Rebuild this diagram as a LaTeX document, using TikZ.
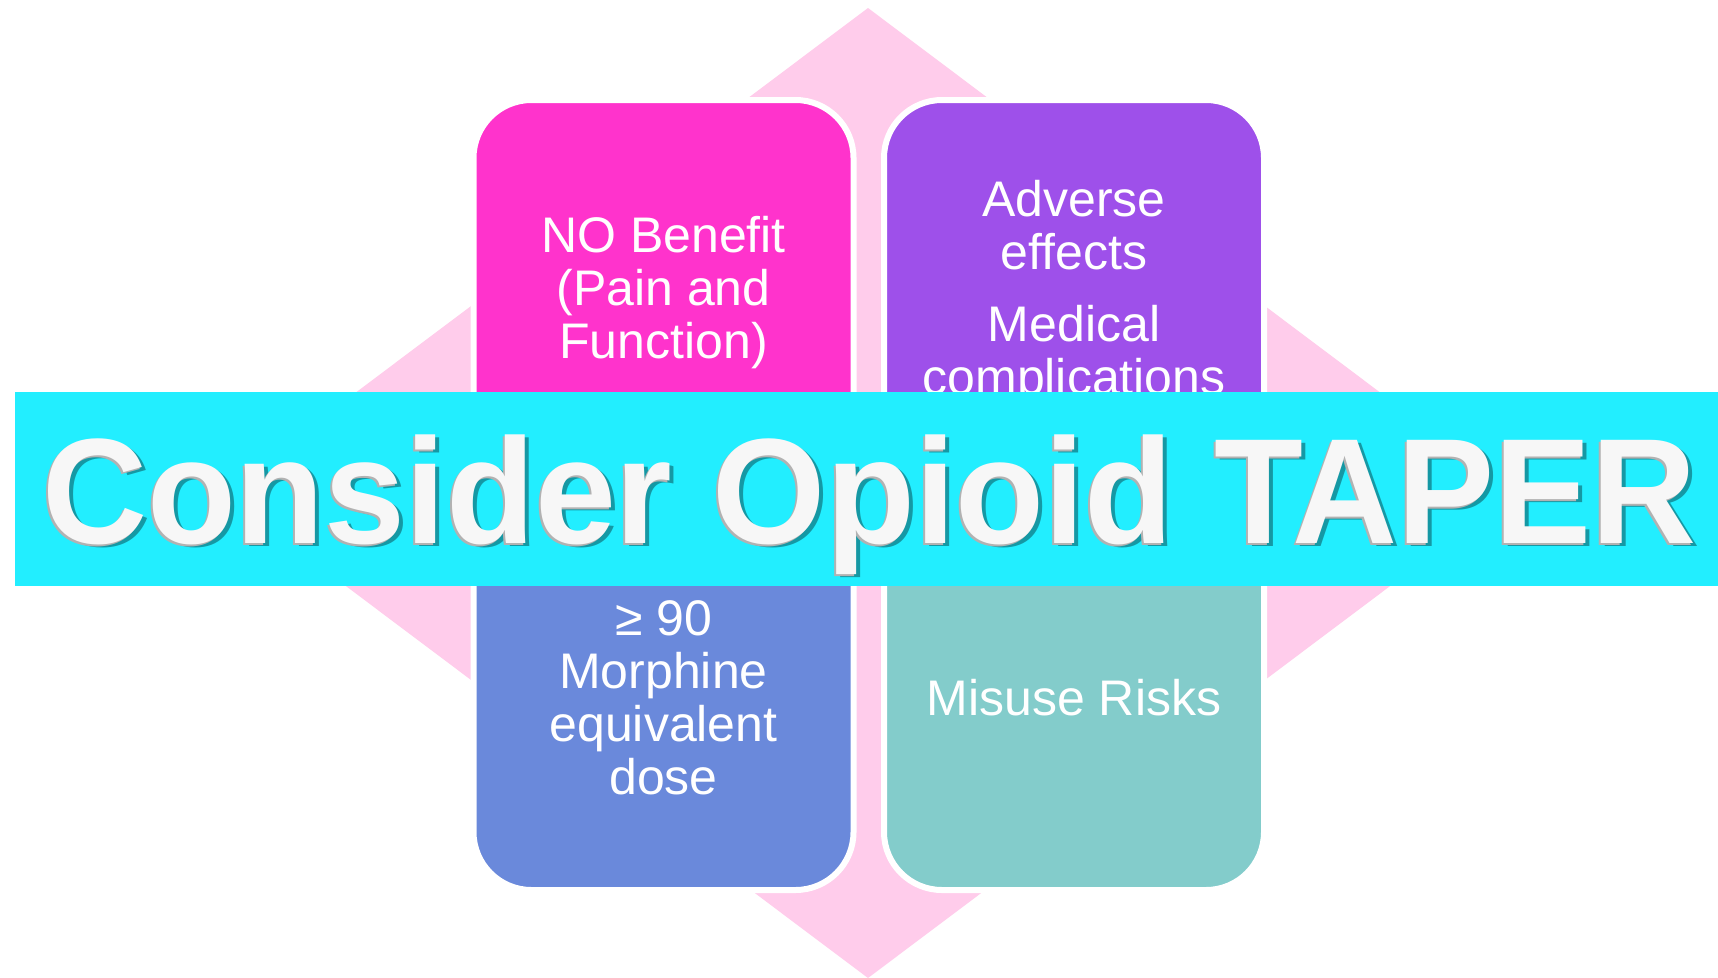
\documentclass[tikz,border=0pt]{standalone}
\usepackage{fontspec}
\setmainfont{Liberation Sans}
\usepackage{graphicx}

\definecolor{diamondpink}{HTML}{FFCCEB}
\definecolor{boxpink}{HTML}{FF33CC}
\definecolor{boxviolet}{HTML}{9E50EA}
\definecolor{boxblue}{HTML}{6A89DB}
\definecolor{boxteal}{HTML}{83CCCB}
\definecolor{bannercyan}{HTML}{22EEFF}
\definecolor{shadeteal}{HTML}{1598A4}

\newcommand\tapertext{\scalebox{0.97}[1]{\fontsize{150}{150}\bfseries Consider Opioid TAPER}}

\begin{document}
\begin{tikzpicture}[x=1pt,y=-1pt,
  tile/.style={draw=white, line width=6pt, rounded corners=58pt,
    minimum width=380pt, minimum height=379pt, inner sep=0pt},
  tiletext/.style={text=white, align=center, inner sep=0pt,
    font=\fontsize{50}{53}\selectfont},
  bannerword/.style={anchor=base west, inner sep=0pt, outer sep=0pt}
]
\useasboundingbox (0,0) rectangle (1718,977);
\fill[white] (0,0) rectangle (1718,977);

% pink diamond behind the four tiles
\fill[diamondpink] (868,8) -- (1514,493) -- (868,978) -- (222,493) -- cycle;

% the four tiles
\node[tile, fill=boxpink]   (benefitbox) at (663.5,289.5) {};
\node[tile, fill=boxviolet] (adversebox) at (1074,289.5) {};
\node[tile, fill=boxblue]   (dosebox)    at (663.5,700.5) {};
\node[tile, fill=boxteal]   (misusebox)  at (1074,700.5) {};

% their texts
\node[tiletext] (benefit) at ([yshift=-3pt]benefitbox.center)
  {NO Benefit\\(Pain and\\Function)};
\node[tiletext] (adverse) at ([yshift=-3pt]adversebox.center)
  {Adverse\\effects\\[19pt]Medical\\complications};
\node[tiletext] (dose) at ([yshift=3pt]dosebox.center)
  {≥ 90\\Morphine\\equivalent\\dose};
\node[tiletext] (misuse) at ([yshift=3pt]misusebox.center)
  {Misuse Risks};

% banner across the middle
\node[fill=bannercyan, anchor=north west, inner sep=0pt, outer sep=0pt,
  minimum width=1703pt, minimum height=194pt] (bannerbar) at (15,392) {};

% embossed title: two shadow copies under a white face
\node[bannerword, text=shadeteal] (tapershade) at (46,546) {\tapertext};
\node[bannerword, text=gray!60] (taperrim) at (40,545) {\tapertext};
\node[bannerword, text=white!97!black] (taper) at (42,543) {\tapertext};
\end{tikzpicture}
\end{document}
